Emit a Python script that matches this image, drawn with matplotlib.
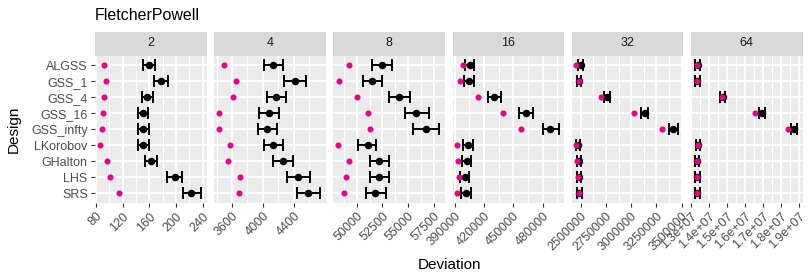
import matplotlib
matplotlib.use("Agg")
import matplotlib.pyplot as plt
import matplotlib.transforms as mtransforms
import numpy as np

plt.rcParams['font.family'] = ['Liberation Sans', 'DejaVu Sans']

designs = ["ALGSS", "GSS_1", "GSS_4", "GSS_16", "GSS_infty",
           "LKorobov", "GHalton", "LHS", "SRS"]
dims = ["2", "4", "8", "16", "32", "64"]

# mean deviation (black point) with interval ends, and the pink reference point
mean_2 = [159.5, 178, 157, 150, 151, 150, 162.5, 198, 222.5]
lo_2 = [150.5, 167, 148.5, 142.5, 142.5, 142.5, 154, 187, 210]
hi_2 = [168.5, 188, 166, 158.5, 159.5, 159.5, 172, 209, 237]
pink_2 = [92.5, 95, 92, 91, 89, 86, 96, 101, 114]

mean_4 = [4136, 4417, 4166, 4076, 4058, 4136, 4262, 4460, 4590]
lo_4 = [4019, 4275, 4050, 3955, 3933, 4019, 4136, 4318, 4448]
hi_4 = [4266, 4560, 4300, 4214, 4180, 4266, 4396, 4612, 4742]
pink_4 = [3496, 3648, 3617, 3431, 3427, 3578, 3544, 3700, 3686]

mean_8 = [52435, 51461, 54123, 55812, 56753, 51071, 52208, 52208, 51818]
lo_8 = [51526, 50617, 53117, 54740, 55519, 50162, 51331, 51299, 50909]
hi_8 = [53474, 52468, 55162, 57013, 58019, 51851, 53117, 53182, 52825]
pink_8 = [49286, 48312, 50032, 51071, 51331, 48182, 49253, 48994, 48734]

mean_16 = [405289, 404270, 430430, 462706, 487848, 403250, 402231, 400193, 401892]
lo_16 = [400872, 399513, 423975, 455572, 480034, 398494, 397135, 395096, 396795]
hi_16 = [410045, 409366, 436885, 470181, 496682, 408686, 406987, 404949, 406647]
pink_16 = [398494, 395436, 414122, 439604, 457950, 392718, 393737, 394757, 392718]

mean_32 = [2500000, 2486800, 2757426, 3133663, 3417492, 2473597, 2483498, 2480198, 2486799]
lo_32 = [2477000, 2467000, 2731000, 3094000, 3375000, 2450000, 2460000, 2460000, 2463000]
hi_32 = [2520000, 2507000, 2790000, 3170000, 3467000, 2493000, 2507000, 2503000, 2510000]
pink_32 = [2453795, 2483500, 2698020, 3031353, 3308581, 2457096, 2466997, 2473597, 2480198]

mean_64 = [13.37e6, 13.35e6, 14.76e6, 16.93e6, 18.74e6, 13.39e6, 13.33e6, 13.35e6, 13.35e6]
lo_64 = [13.24e6, 13.22e6, 14.63e6, 16.78e6, 18.59e6, 13.26e6, 13.20e6, 13.22e6, 13.22e6]
hi_64 = [13.50e6, 13.48e6, 14.89e6, 17.11e6, 18.93e6, 13.52e6, 13.46e6, 13.48e6, 13.48e6]
pink_64 = [13.33e6, 13.33e6, 14.70e6, 16.59e6, 18.41e6, 13.37e6, 13.31e6, 13.33e6, 13.33e6]

means = [mean_2, mean_4, mean_8, mean_16, mean_32, mean_64]
los = [lo_2, lo_4, lo_8, lo_16, lo_32, lo_64]
his = [hi_2, hi_4, hi_8, hi_16, hi_32, hi_64]
pinks = [pink_2, pink_4, pink_8, pink_16, pink_32, pink_64]

xlims = [(78.5, 245.9), (3369, 4817), (47731, 58600),
         (387960, 501900), (2411881, 3516832), (12.995e6, 19.217e6)]
majors = [[80, 120, 160, 200, 240],
          [3600, 4000, 4400],
          [50000, 52500, 55000, 57500],
          [390000, 420000, 450000, 480000],
          [2500000, 2750000, 3000000, 3250000, 3500000],
          [1.3e7, 1.4e7, 1.5e7, 1.6e7, 1.7e7, 1.8e7, 1.9e7]]
major_labels = [["80", "120", "160", "200", "240"],
                ["3600", "4000", "4400"],
                ["50000", "52500", "55000", "57500"],
                ["390000", "420000", "450000", "480000"],
                ["2500000", "2750000", "3000000", "3250000", "3500000"],
                ["1.3e+07", "1.4e+07", "1.5e+07", "1.6e+07", "1.7e+07", "1.8e+07", "1.9e+07"]]

W, H = 810, 279
fig = plt.figure(figsize=(W / 100, H / 100), dpi=100)

pink_col = "#EC008C"
panel_w = 111.6
gap = 7.6
left0 = 95.0
top, bottom = 55.5, 203.0
strip_top = 31.5

ypos = np.arange(len(designs))[::-1] + 1  # ALGSS on top

for i in range(len(dims)):
    x0 = left0 + i * (panel_w + gap)
    ax = fig.add_axes([x0 / W, 1 - bottom / H, panel_w / W, (bottom - top) / H])
    ax.set_facecolor("#EBEBEB")
    for s in ax.spines.values():
        s.set_visible(False)
    lo, hi = xlims[i]
    mj = majors[i]
    step = mj[1] - mj[0]
    minors = [m + step / 2 for m in [mj[0] - step] + mj]
    for m in minors:
        if lo < m < hi:
            ax.axvline(m, color="white", lw=0.7, zorder=0.5)
    for m in mj:
        ax.axvline(m, color="white", lw=1.4, zorder=0.6)
    for y in ypos:
        ax.axhline(y, color="white", lw=1.4, zorder=0.6)

    mean = np.array(means[i])
    err = [mean - np.array(los[i]), np.array(his[i]) - mean]
    ax.errorbar(mean, ypos, xerr=err, fmt="o", color="black", ms=4.4,
                elinewidth=1.4, capsize=4.0, capthick=1.4, zorder=2)
    ax.plot(pinks[i], ypos, "o", color=pink_col, ms=4.4, zorder=3, mec="none")

    ax.set_xlim(lo, hi)
    ax.set_ylim(0.4, len(designs) + 0.6)
    ax.set_xticks(mj)
    ax.set_xticklabels(major_labels[i], rotation=45, ha="right", va="top",
                       rotation_mode="anchor", fontsize=9, color="#4D4D4D")
    shift = mtransforms.ScaledTranslation(-3 / 100, 0, fig.dpi_scale_trans)
    for lab in ax.get_xticklabels():
        lab.set_transform(lab.get_transform() + shift)
    ax.tick_params(axis="x", length=2.75, width=0.8, color="#333333", pad=2.5)
    ax.set_yticks(ypos)
    if i == 0:
        ax.set_yticklabels(designs, fontsize=9, color="#4D4D4D")
        ax.tick_params(axis="y", length=2.75, width=0.8, color="#333333", pad=2.5)
    else:
        ax.set_yticklabels([])
        ax.tick_params(axis="y", length=0)

    sax = fig.add_axes([x0 / W, 1 - top / H, panel_w / W, (top - strip_top) / H])
    sax.set_facecolor("#D9D9D9")
    sax.set_xticks([])
    sax.set_yticks([])
    for s in sax.spines.values():
        s.set_visible(False)
    sax.text(0.5, 0.5, dims[i], ha="center", va="center", fontsize=9,
             color="#1A1A1A", transform=sax.transAxes)

fig.text(95 / W, 1 - 15 / H, "FletcherPowell", fontsize=11.5, ha="left",
         va="center", color="black")
fig.text(449 / W, 1 - 265 / H, "Deviation", fontsize=11, ha="center",
         va="center", color="black")
fig.text(14 / W, 1 - 129.5 / H, "Design", fontsize=11, ha="center",
         va="center", rotation=90, color="black")

fig.savefig("out.png", dpi=100)
